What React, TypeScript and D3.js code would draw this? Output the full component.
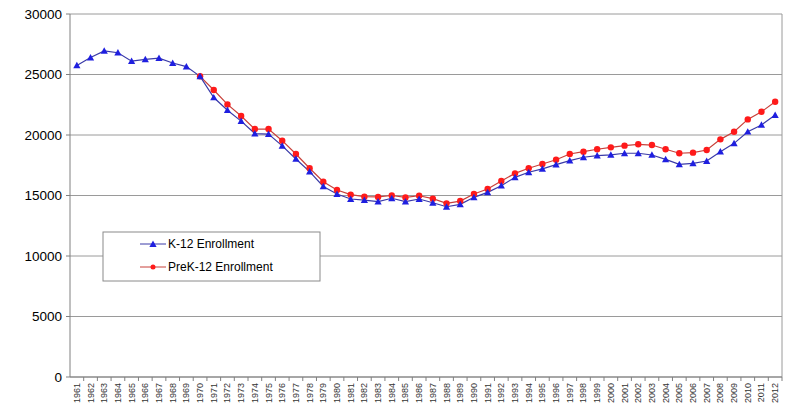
import * as d3 from 'd3';

const years = d3.range(1961, 2013).map(String);

// K-12 enrollment, 1961–2012
const k12 = [
  25750, 26400, 26950, 26800, 26100, 26250, 26350, 25950, 25650, 24850,
  23100, 22050, 21150, 20120, 20080, 19100, 18020, 16970, 15750, 15120,
  14710, 14620, 14490, 14770, 14490, 14710, 14400, 14070, 14270, 14850,
  15260, 15810, 16500, 16920, 17200, 17550, 17880, 18160, 18300, 18350,
  18490, 18490, 18350, 17990, 17580, 17660, 17850, 18620, 19310, 20270,
  20830, 21650,
];

// PreK-12 enrollment, 1970–2012
const prek12: (number | null)[] = [
  null, null, null, null, null, null, null, null, null, 24850,
  23720, 22530, 21570, 20490, 20490, 19530, 18430, 17250, 16140, 15450,
  15070, 14900, 14880, 15000, 14840, 14980, 14740, 14350, 14540, 15120,
  15540, 16200, 16830, 17250, 17600, 17950, 18430, 18620, 18820, 18980,
  19120, 19230, 19170, 18820, 18490, 18540, 18760, 19640, 20270, 21290,
  21920, 22750,
];

const yTicks = [0, 5000, 10000, 15000, 20000, 25000, 30000];

const W = 788;
const H = 408;
const M = { left: 70, right: 6, top: 14, bottom: 31 };

const BLUE_LINE = '#3a3aa8';
const BLUE = '#1f1fe0';
const RED_LINE = '#c8403a';
const RED = '#ff1a1a';
const GRID = '#9a9a9a';
const FONT = 'Arial, "Liberation Sans", sans-serif';

function Triangle({ x, y, color }: { x: number; y: number; color: string }) {
  const s = 3.6;
  return (
    <path
      d={`M${x},${y - s}L${x + s},${y + s * 0.8}L${x - s},${y + s * 0.8}Z`}
      fill={color}
    />
  );
}

export default function App() {
  const x = d3
    .scaleBand<string>()
    .domain(years)
    .range([M.left, W - M.right]);
  const y = d3
    .scaleLinear()
    .domain([0, 30000])
    .range([H - M.bottom, M.top]);

  const cx = (yr: string) => (x(yr) ?? 0) + x.bandwidth() / 2;

  const line = d3
    .line<number | null>()
    .defined((d) => d != null)
    .x((_, i) => cx(years[i]))
    .y((d) => y(d as number));

  const y0 = y(0);
  const legendX = 103;
  const legendY = 232;

  return (
    <svg
      width={W}
      height={H}
      style={{ position: 'absolute', left: 0, top: 0, background: '#fff' }}
      fontFamily={FONT}
    >
      {/* gridlines */}
      {yTicks.map((t) => (
        <line
          key={t}
          x1={M.left}
          x2={W - M.right}
          y1={y(t)}
          y2={y(t)}
          stroke={GRID}
          strokeWidth={1}
        />
      ))}
      {/* right border */}
      <line
        x1={W - M.right}
        x2={W - M.right}
        y1={y(30000)}
        y2={y0}
        stroke={GRID}
      />
      {/* y axis */}
      <line x1={M.left} x2={M.left} y1={y(30000)} y2={y0} stroke="#808080" />
      {yTicks.map((t) => (
        <g key={'yt' + t}>
          <line x1={M.left - 4} x2={M.left} y1={y(t)} y2={y(t)} stroke="#808080" />
          <text
            x={M.left - 8}
            y={y(t)}
            dy="0.35em"
            textAnchor="end"
            fontSize={13.5}
            fill="#000"
          >
            {t}
          </text>
        </g>
      ))}
      {/* x axis */}
      <line x1={M.left} x2={W - M.right} y1={y0} y2={y0} stroke="#808080" />
      {years.map((yr) => (
        <line
          key={'xt' + yr}
          x1={(x(yr) ?? 0) + x.bandwidth()}
          x2={(x(yr) ?? 0) + x.bandwidth()}
          y1={y0}
          y2={y0 + 4}
          stroke="#808080"
        />
      ))}
      {years.map((yr) => (
        <text
          key={'xl' + yr}
          transform={`translate(${cx(yr) + 3},${y0 + 6}) rotate(-90)`}
          textAnchor="end"
          fontSize={9}
          fill="#333"
        >
          {yr}
        </text>
      ))}

      {/* series lines */}
      <path d={line(prek12) ?? ''} fill="none" stroke={RED_LINE} strokeWidth={1.2} />
      <path d={line(k12) ?? ''} fill="none" stroke={BLUE_LINE} strokeWidth={1.2} />

      {/* markers */}
      {prek12.map((v, i) =>
        v == null ? null : (
          <circle key={'r' + i} cx={cx(years[i])} cy={y(v)} r={3.2} fill={RED} />
        )
      )}
      {k12.map((v, i) => (
        <Triangle key={'b' + i} x={cx(years[i])} y={y(v)} color={BLUE} />
      ))}

      {/* legend */}
      <rect
        x={legendX}
        y={legendY}
        width={217}
        height={49}
        fill="#fff"
        stroke="#8a8a8a"
      />
      <line x1={140} x2={166} y1={legendY + 12} y2={legendY + 12} stroke={BLUE_LINE} />
      <Triangle x={153} y={legendY + 12} color={BLUE} />
      <text x={168} y={legendY + 12} dy="0.35em" fontSize={12} fill="#000">
        K-12 Enrollment
      </text>
      <line x1={140} x2={166} y1={legendY + 35} y2={legendY + 35} stroke={RED_LINE} />
      <circle cx={153} cy={legendY + 35} r={2.5} fill={RED} />
      <text x={168} y={legendY + 35} dy="0.35em" fontSize={12} fill="#000">
        PreK-12 Enrollment
      </text>
    </svg>
  );
}
